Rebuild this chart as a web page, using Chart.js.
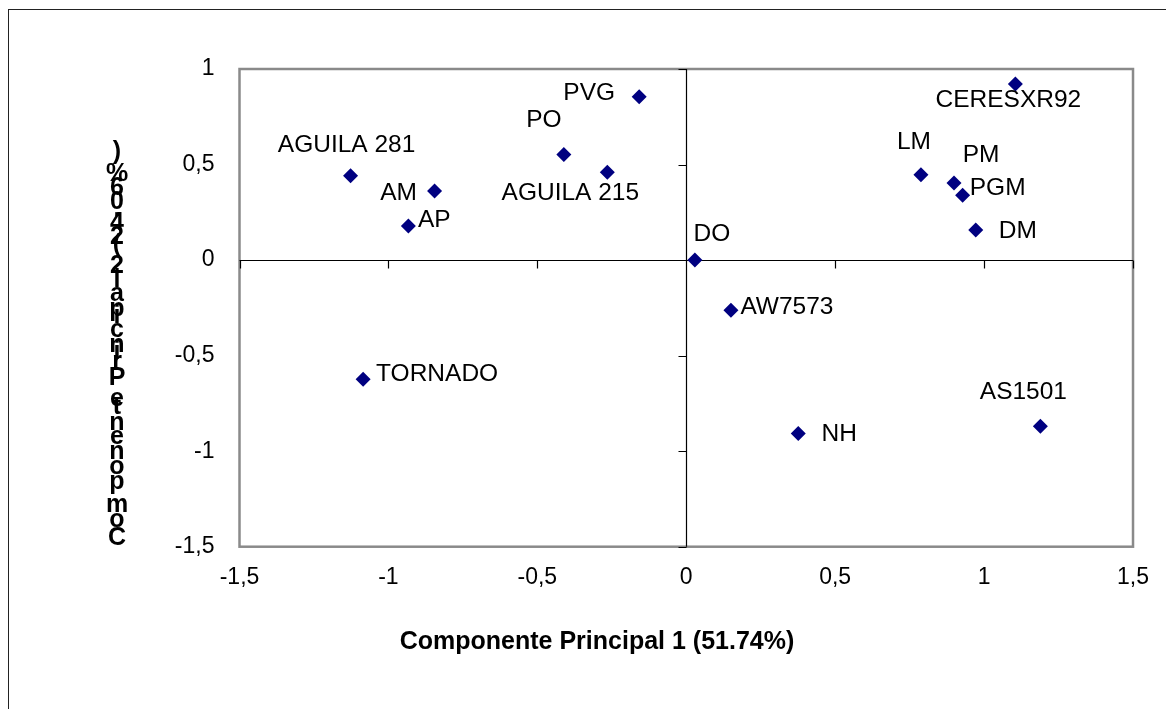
<!DOCTYPE html>
<html>
<head>
<meta charset="utf-8">
<script src="https://cdn.jsdelivr.net/npm/chart.js@4.4.0/dist/chart.umd.min.js"></script>
<style>
html, body { margin: 0; padding: 0; background: #fff; overflow: hidden; }
#wrap { position: relative; width: 1166px; height: 709px; }
#frame { position: absolute; left: 8px; top: 9px; width: 1220px; height: 760px; border: 1px solid #222; box-sizing: border-box; }
canvas { position: absolute; left: 0; top: 0; }
</style>
</head>
<body>
<div id="wrap">
  <div id="frame"></div>
  <canvas id="myChart" width="1166" height="709"></canvas>
</div>
<script>
// varieties and their scores on the two principal components
const names = ["AGUILA 281", "AM", "AP", "PO", "AGUILA 215", "PVG", "DO", "CERESXR92",
               "LM", "PM", "PGM", "DM", "AW7573", "NH", "AS1501", "TORNADO"];
const pc1 = [-1.127, -0.845, -0.933, -0.411, -0.265, -0.158, 0.029, 1.105,
             0.788, 0.899, 0.928, 0.972, 0.150, 0.376, 1.189, -1.085];
const pc2 = [0.441, 0.361, 0.178, 0.553, 0.460, 0.855, 0.0, 0.921,
             0.446, 0.404, 0.339, 0.157, -0.262, -0.907, -0.869, -0.624];
const xTicks = [-1.5, -1, -0.5, 0, 0.5, 1, 1.5];
const yTicks = [-1.5, -1, -0.5, 0, 0.5, 1];
const xTitle = "Componente Principal 1 (51.74%)";
const yTitle = "Componente Principal 2 (24.06%)";

// where each data label sits relative to its marker (px)
const labelShift = [[-4, -31], [-36, 2], [26, -6], [-20, -34], [-37, 21], [-50, -3], [17, -26], [-7, 16],
                    [-7, -33], [27, -28], [35, -7], [42, 1], [56, -3], [41, 1], [-17, -34], [74, -5]];

const fmt = v => String(v).replace('.', ',');

const points = pc1.map((x, i) => ({ x: x, y: pc2[i] }));

// grey plot frame plus the two axes crossing at zero
const axesPlugin = {
  id: 'axesCross',
  beforeDatasetsDraw(chart) {
    const { ctx, chartArea: a, scales: { x, y } } = chart;
    ctx.save();
    ctx.strokeStyle = '#8a8a8a';
    ctx.lineWidth = 2.5;
    ctx.strokeRect(a.left, a.top, a.right - a.left, a.bottom - a.top);
    const x0 = Math.round(x.getPixelForValue(0)) + 0.5;
    const y0 = Math.round(y.getPixelForValue(0)) + 0.5;
    ctx.strokeStyle = '#000';
    ctx.lineWidth = 1.2;
    ctx.beginPath();
    ctx.moveTo(x0, a.top); ctx.lineTo(x0, a.bottom);
    ctx.moveTo(a.left, y0); ctx.lineTo(a.right, y0);
    yTicks.forEach(v => {
      const py = Math.round(y.getPixelForValue(v)) + 0.5;
      ctx.moveTo(x0 - 8, py); ctx.lineTo(x0, py);
    });
    xTicks.forEach(v => {
      const px = Math.round(x.getPixelForValue(v)) + 0.5;
      ctx.moveTo(px, y0); ctx.lineTo(px, y0 + 8);
    });
    ctx.stroke();
    ctx.restore();
  }
};

const labelPlugin = {
  id: 'pointNames',
  afterDatasetsDraw(chart) {
    const ctx = chart.ctx;
    const meta = chart.getDatasetMeta(0);
    ctx.save();
    ctx.font = '24.5px "Liberation Sans", Arial, sans-serif';
    ctx.fillStyle = '#000';
    ctx.textAlign = 'center';
    ctx.textBaseline = 'middle';
    meta.data.forEach((pt, i) => {
      ctx.fillText(names[i], pt.x + labelShift[i][0], pt.y + labelShift[i][1]);
    });
    ctx.restore();
  }
};

const titlePlugin = {
  id: 'axisTitles',
  afterDraw(chart) {
    const ctx = chart.ctx;
    ctx.save();
    ctx.fillStyle = '#000';
    ctx.font = 'bold 25px "Liberation Sans", Arial, sans-serif';
    ctx.textAlign = 'center';
    ctx.textBaseline = 'middle';
    ctx.fillText(xTitle, 597, 642);
    // vertical title: upright glyphs stacked bottom to top
    ctx.textBaseline = 'alphabetic';
    let py = 545;
    for (const ch of yTitle) {
      ctx.fillText(ch, 117, py);
      py -= ctx.measureText(ch).width;
    }
    ctx.restore();
  }
};

const tickFont = { family: '"Liberation Sans", Arial, sans-serif', size: 23 };

const config = {
  type: 'scatter',
  data: {
    datasets: [{
      data: points,
      pointStyle: 'rectRot',
      pointRadius: 7.5,
      pointHoverRadius: 7.5,
      backgroundColor: '#000080',
      borderColor: '#000080',
      borderWidth: 0
    }]
  },
  options: {
    responsive: false,
    animation: false,
    events: [],
    layout: { padding: { top: 69, right: 31.5, bottom: 0, left: 0 } },
    plugins: { legend: { display: false }, tooltip: { enabled: false } },
    scales: {
      x: {
        type: 'linear',
        min: -1.5, max: 1.5,
        afterBuildTicks: s => { s.ticks = xTicks.map(v => ({ value: v })); },
        afterFit: s => { s.height = 709 - 546.7; },
        grid: { display: false, drawTicks: false },
        border: { display: false },
        ticks: { padding: 17, color: '#000', font: tickFont, callback: v => fmt(v) }
      },
      y: {
        type: 'linear',
        min: -1.5, max: 1,
        afterBuildTicks: s => { s.ticks = yTicks.map(v => ({ value: v })); },
        afterFit: s => { s.width = 239.5; },
        grid: { display: false, drawTicks: false },
        border: { display: false },
        ticks: { padding: 25, color: '#000', font: tickFont, callback: v => fmt(v) }
      }
    }
  },
  plugins: [axesPlugin, labelPlugin, titlePlugin]
};

new Chart(document.getElementById('myChart'), config);
</script>
</body>
</html>
